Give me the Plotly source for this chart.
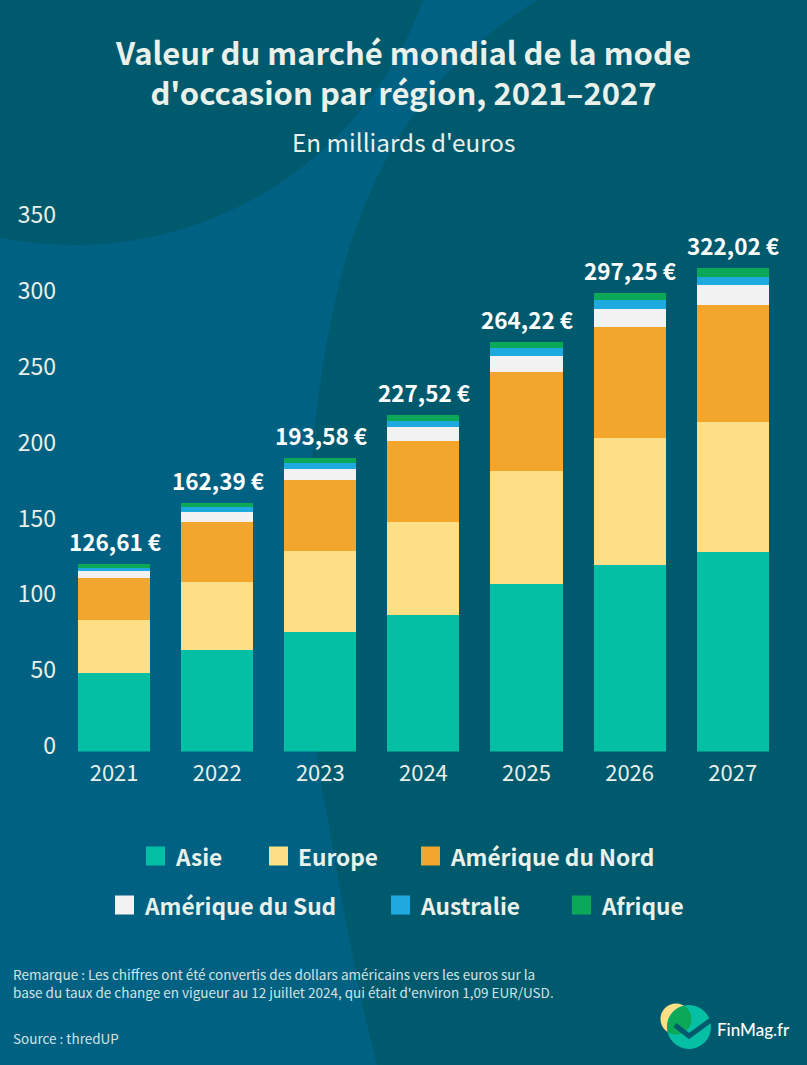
import numpy as np
import plotly.graph_objects as go

W, H = 807, 1065
FONT = "Noto Sans CJK SC"
years = ["2021", "2022", "2023", "2024", "2025", "2026", "2027"]
asie = [51.7, 66.9, 78.8, 90.3, 110.4, 122.9, 131.5]
europe = [34.9, 45.0, 53.4, 61.0, 74.5, 83.7, 85.7]
amerique_nord = [27.9, 39.6, 46.8, 53.4, 65.3, 73.0, 77.3]
amerique_sud = [4.6, 6.6, 7.3, 9.2, 10.5, 11.9, 12.8]
australie = [2.0, 3.1, 3.6, 4.0, 5.3, 5.9, 5.7]
afrique = [2.2, 2.6, 3.6, 3.6, 4.0, 4.6, 5.7]
total_labels = ["126,61 €", "162,39 €", "193,58 €", "227,52 €", "264,22 €", "297,25 €", "322,02 €"]
y_ticks = [0, 50, 100, 150, 200, 250, 300, 350]

series = [
    ("Asie", asie, "#04bfa4"),
    ("Europe", europe, "#ffdf85"),
    ("Amérique du Nord", amerique_nord, "#f3a62d"),
    ("Amérique du Sud", amerique_sud, "#f2f2f2"),
    ("Australie", australie, "#1eaadf"),
    ("Afrique", afrique, "#0aa857"),
]
DARK, LIGHT = "#005a6e", "#006182"
TEXT = "#e9f1ea"


def px(x):
    return x / W


def py(y):
    return 1 - y / H


def poly_path(points):
    return "M" + "L".join(f"{px(x):.5f},{py(y):.5f}" for x, y in points) + "Z"


def circle_shape(cx, cy, r, color):
    return dict(type="circle", xref="paper", yref="paper", layer="below",
                x0=px(cx - r), x1=px(cx + r), y0=py(cy + r), y1=py(cy - r),
                fillcolor=color, line_width=0)


def lens(c1, c2):
    t = np.linspace(0, 2 * np.pi, 361)[:-1]
    pts = []
    for (a, b) in ((c1, c2), (c2, c1)):
        x = a[0] + a[2] * np.cos(t)
        y = a[1] + a[2] * np.sin(t)
        ok = np.hypot(x - b[0], y - b[1]) <= b[2]
        start = np.where(~ok)[0][0]
        order = [(start + k) % 360 for k in range(360) if ok[(start + k) % 360]]
        pts += [(x[i], y[i]) for i in order]
    return pts


fig = go.Figure()
for name, vals, color in series:
    fig.add_bar(x=years, y=vals, name=name, marker=dict(color=color, line_width=0),
                showlegend=False, hoverinfo="x+y+name")
# helper trace that puts the shifted label axis on the page
fig.add_scatter(x=years, y=[None] * 7, yaxis="y2", showlegend=False, hoverinfo="skip")

totals = np.sum([s[1] for s in series], axis=0)
# year strings that look numeric are read as category indices by annotations, so the index is used
ann = [dict(xref="x", yref="y", x=i, y=float(t), text=lab, showarrow=False, yshift=23, xshift=1,
            font=dict(family=FONT, size=22.5, color="#ffffff", weight=700))
       for i, (t, lab) in enumerate(zip(totals, total_labels))]


def page_text(x, y, text, size, color=TEXT, anchor="center", weight=400, family=FONT):
    ann.append(dict(xref="paper", yref="paper", x=px(x), y=py(y), text=text, showarrow=False,
                    xanchor=anchor, yanchor="middle", align="left" if anchor == "left" else "center",
                    font=dict(family=family, size=size, color=color, weight=weight)))


page_text(403.5, 142, "En milliards d'euros", 24.3)
page_text(11, 983, "Remarque : Les chiffres ont été convertis des dollars américains vers les euros sur la<br>"
                   "base du taux de change en vigueur au 12 juillet 2024, qui était d'environ 1,09 EUR/USD.",
          13.5, "#d3e3e3", "left")
page_text(11, 1038, "Source : thredUP", 13.5, "#d3e3e3", "left")
page_text(715, 1029, "FinMag.fr", 17, "#ffffff", "left", 500, "Lato")

shapes = [
    circle_shape(75, -125, 370, DARK),
    dict(type="path", xref="paper", yref="paper", layer="below", fillcolor=DARK, line_width=0,
         path=f"M{px(538)},{py(0)} C{px(440)},{py(60)} {px(385)},{py(140)} {px(350)},{py(245)} "
              f"C{px(305)},{py(390)} {px(290)},{py(640)} {px(328)},{py(820)} "
              f"C{px(345)},{py(920)} {px(360)},{py(1000)} {px(377)},{py(1065)} "
              f"L{px(807)},{py(1065)} L{px(807)},{py(0)} Z"),
]

legend_pos = [(146, 856), (269, 856), (421, 856), (115, 905), (391, 905), (572, 905)]
for (name, _, color), (x, y) in zip(series, legend_pos):
    shapes.append(dict(type="rect", xref="paper", yref="paper", x0=px(x), x1=px(x + 19),
                       y0=py(y + 9.5), y1=py(y - 9.5), fillcolor=color, line_width=0))
    page_text(x + 27, y, name, 22.7, TEXT, "left", 700)

yellow = (676, 1019, 15.5)
teal = (689, 1027, 22)
shapes += [circle_shape(*yellow, "#ffdf85"), circle_shape(*teal, "#04bfa4"),
           dict(type="path", xref="paper", yref="paper", layer="below", fillcolor="#0aa857",
                line_width=0, path=poly_path(lens(yellow, teal))),
           dict(type="path", xref="paper", yref="paper", layer="below",
                line=dict(color=DARK, width=5),
                path=f"M{px(675)},{py(1025)} L{px(689)},{py(1036)} L{px(711)},{py(1020)}")]

left = 57
c0, step = 114.1, 103.1
base, scale = 751.5, 1.517
fig.update_layout(
    width=W, height=H, margin=dict(l=0, r=0, t=0, b=0, autoexpand=False), autosize=False,
    paper_bgcolor=LIGHT, plot_bgcolor="rgba(0,0,0,0)",
    barmode="stack", bargap=0.3,
    title=dict(text="Valeur du marché mondial de la mode<br>d'occasion par région, 2021–2027",
               x=0.5, xanchor="center", y=py(65), yanchor="middle", yref="paper",
               font=dict(family=FONT, size=31, color=TEXT, weight=700)),
    xaxis=dict(domain=[px(left), 1], type="category", range=[(left - c0) / step, (W - c0) / step],
               automargin=False, showgrid=False, showline=False, ticks="", ticklabelstandoff=6,
               tickfont=dict(family=FONT, size=22, color=TEXT)),
    yaxis=dict(domain=[py(base), 1], range=[0, base / scale], showgrid=False, zeroline=False,
               automargin=False, showticklabels=False, showline=False),
    yaxis2=dict(domain=[py(base), 1], overlaying="y", side="left", automargin=False,
                range=[-5.5 / scale, (base - 5.5) / scale], tickvals=y_ticks, showgrid=False,
                zeroline=False, showline=False, ticks="",
                tickfont=dict(family=FONT, size=23, color=TEXT)),
    shapes=shapes, annotations=ann, showlegend=False,
)
fig.write_html("out.html", config={"displayModeBar": False},
               post_script="document.body.style.margin='0';document.body.style.overflow='hidden';")
